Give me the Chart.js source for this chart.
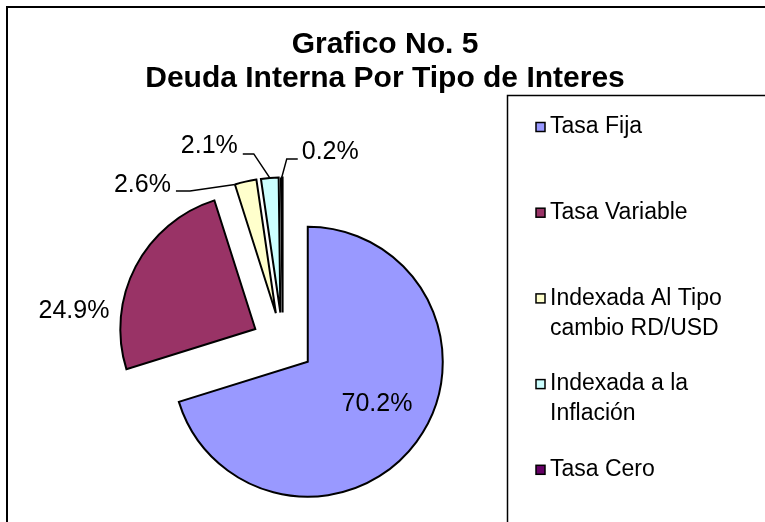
<!DOCTYPE html>
<html>
<head>
<meta charset="utf-8">
<script src="https://cdn.jsdelivr.net/npm/chart.js@4.4.1/dist/chart.umd.min.js"></script>
<style>
  html, body { margin: 0; padding: 0; background: #ffffff; }
  #wrap { position: relative; width: 765px; height: 522px; overflow: hidden; }
  canvas { display: block; }
</style>
</head>
<body>
<div id="wrap"><canvas id="c" width="765" height="522"></canvas></div>
<script>
// ---- data ----
const TITLE_LINES = ['Grafico No. 5', 'Deuda Interna Por Tipo de Interes'];
const CATEGORIES = [
  ['Tasa Fija'],
  ['Tasa Variable'],
  ['Indexada Al Tipo', 'cambio RD/USD'],
  ['Indexada a la', 'Inflación'],
  ['Tasa Cero']
];
const SHARES = [70.2, 24.9, 2.6, 2.1, 0.2];
const COLORS = ['#9999FF', '#993366', '#FFFFCC', '#CCFFFF', '#660066'];

// ---- layout / style ----
const FONT = '"Liberation Sans", Arial, sans-serif';
const EXPLODE = 31;
const LABEL_STYLE = [
  { type: 'inside', frac: 0.48, r: 0.6 },
  { type: 'outside', frac: 0.27, gap: 12, align: 'right' },
  { type: 'leader', frac: 0, elbow: [-45, 6.5], tail: -59, text: [-64, 0.5], align: 'right' },
  { type: 'leader', frac: 0.5, elbow: [-16, -24], tail: -27, text: [-32, -32], align: 'right' },
  { type: 'leader', frac: 0.5, elbow: [5, -18.5], tail: 16, text: [20, -25.5], align: 'left' }
];

const framePlugin = {
  id: 'frame',
  beforeDraw(chart) {
    const ctx = chart.ctx;
    ctx.save();
    ctx.fillStyle = '#ffffff';
    ctx.fillRect(0, 0, chart.width, chart.height);
    ctx.strokeStyle = '#000000';
    ctx.lineWidth = 2;
    ctx.strokeRect(7, 7, chart.width + 50, chart.height + 50);
    ctx.restore();
  }
};

const titlePlugin = {
  id: 'titleText',
  afterDraw(chart) {
    const ctx = chart.ctx;
    ctx.save();
    ctx.fillStyle = '#000000';
    ctx.font = 'bold 30px ' + FONT;
    ctx.textAlign = 'center';
    ctx.textBaseline = 'alphabetic';
    TITLE_LINES.forEach((t, i) => ctx.fillText(t, 385, 53 + i * 34));
    ctx.restore();
  }
};

const explodePlugin = {
  id: 'explode',
  beforeDatasetsDraw(chart) {
    const ctx = chart.ctx;
    const meta = chart.getDatasetMeta(0);
    meta.data.forEach(arc => {
      const mid = (arc.startAngle + arc.endAngle) / 2;
      ctx.save();
      ctx.translate(Math.cos(mid) * EXPLODE, Math.sin(mid) * EXPLODE);
      arc.draw(ctx, chart.chartArea);
      ctx.restore();
    });
    return false;
  }
};

const labelPlugin = {
  id: 'sliceLabels',
  afterDraw(chart) {
    const ctx = chart.ctx;
    const meta = chart.getDatasetMeta(0);
    ctx.save();
    ctx.font = '25px ' + FONT;
    ctx.fillStyle = '#000000';
    ctx.strokeStyle = '#000000';
    ctx.lineWidth = 1.5;
    ctx.textBaseline = 'middle';
    meta.data.forEach((arc, i) => {
      const st = LABEL_STYLE[i];
      const mid = (arc.startAngle + arc.endAngle) / 2;
      const cx = arc.x + Math.cos(mid) * EXPLODE;
      const cy = arc.y + Math.sin(mid) * EXPLODE;
      const ang = arc.startAngle + (arc.endAngle - arc.startAngle) * st.frac;
      const txt = SHARES[i].toFixed(1) + '%';
      if (st.type === 'inside') {
        const r = arc.outerRadius * st.r;
        ctx.textAlign = 'center';
        ctx.fillText(txt, cx + Math.cos(ang) * r, cy + Math.sin(ang) * r);
      } else if (st.type === 'outside') {
        const r = arc.outerRadius + st.gap;
        ctx.textAlign = st.align;
        ctx.fillText(txt, cx + Math.cos(ang) * r, cy + Math.sin(ang) * r);
      } else {
        const ax = cx + Math.cos(ang) * arc.outerRadius;
        const ay = cy + Math.sin(ang) * arc.outerRadius;
        ctx.beginPath();
        ctx.moveTo(ax, ay);
        ctx.lineTo(ax + st.elbow[0], ay + st.elbow[1]);
        ctx.lineTo(ax + st.tail, ay + st.elbow[1]);
        ctx.stroke();
        ctx.textAlign = st.align;
        ctx.fillText(txt, ax + st.text[0], ay + st.text[1]);
      }
    });
    ctx.restore();
  }
};

const legendPlugin = {
  id: 'boxLegend',
  afterDraw(chart) {
    const ctx = chart.ctx;
    const ds = chart.data.datasets[0];
    ctx.save();
    ctx.strokeStyle = '#000000';
    ctx.lineWidth = 1.5;
    ctx.strokeRect(507.5, 95.5, 400, 500);
    ctx.font = '23px ' + FONT;
    ctx.textBaseline = 'middle';
    ctx.textAlign = 'left';
    CATEGORIES.forEach((lines, i) => {
      const y = 127 + i * 85.7;
      ctx.fillStyle = ds.backgroundColor[i];
      ctx.fillRect(536, y - 4.5, 9, 9);
      ctx.lineWidth = 1.5;
      ctx.strokeRect(536, y - 4.5, 9, 9);
      ctx.fillStyle = '#000000';
      lines.forEach((ln, j) => ctx.fillText(ln, 550, y + j * 30));
    });
    ctx.restore();
  }
};

new Chart(document.getElementById('c'), {
  type: 'pie',
  data: {
    labels: CATEGORIES.map(l => l.join(' ')),
    datasets: [{
      data: SHARES,
      backgroundColor: COLORS,
      borderColor: '#000000',
      borderWidth: 2,
      borderJoinStyle: 'miter',
      radius: 135
    }]
  },
  options: {
    responsive: false,
    animation: false,
    devicePixelRatio: 1,
    layout: { padding: { left: 140, right: 339.4, top: 200, bottom: 35.2 } },
    plugins: {
      legend: { display: false },
      title: { display: false },
      tooltip: { enabled: false }
    }
  },
  plugins: [framePlugin, explodePlugin, labelPlugin, titlePlugin, legendPlugin]
});
</script>
</body>
</html>
